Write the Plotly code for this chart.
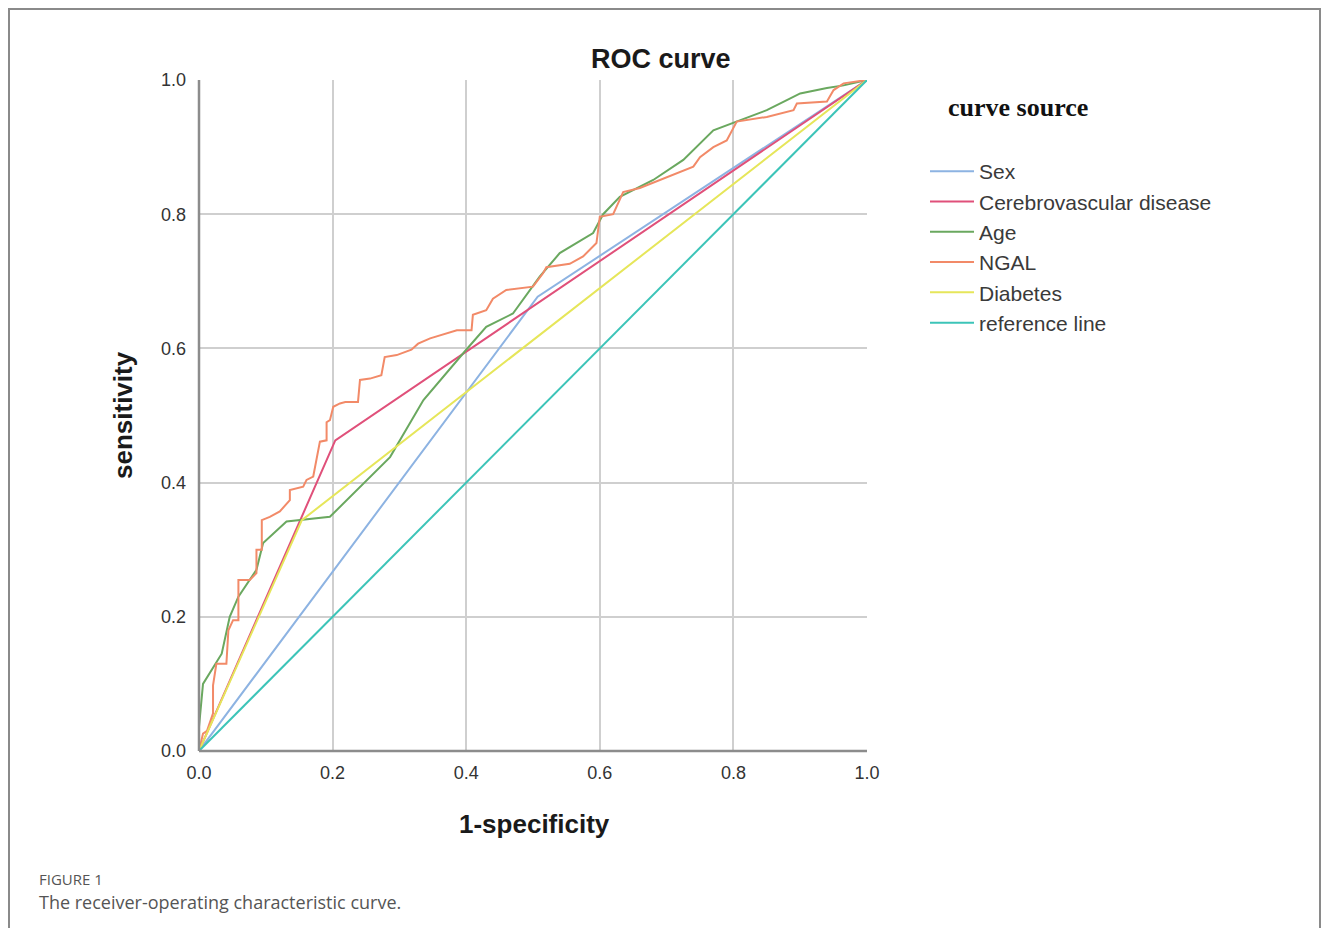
import plotly.graph_objects as go

# ---------------- data ----------------
sex_fpr = [0.0, 0.507, 1.0]
sex_tpr = [0.0, 0.677, 1.0]

cvd_fpr = [0.0, 0.204, 1.0]
cvd_tpr = [0.0, 0.463, 1.0]

diab_fpr = [0.0, 0.154, 1.0]
diab_tpr = [0.0, 0.344, 1.0]

ref_fpr = [0.0, 1.0]
ref_tpr = [0.0, 1.0]

age_fpr = [0.0, 0.0, 0.006, 0.034, 0.046, 0.059, 0.086, 0.096, 0.131, 0.196,
           0.286, 0.336, 0.40, 0.43, 0.47, 0.51, 0.54, 0.59, 0.605, 0.63,
           0.68, 0.725, 0.77, 0.80, 0.85, 0.88, 0.90, 0.94, 0.965, 1.0]
age_tpr = [0.0, 0.036, 0.10, 0.145, 0.20, 0.23, 0.27, 0.31, 0.342, 0.349,
           0.438, 0.523, 0.598, 0.632, 0.652, 0.707, 0.742, 0.772, 0.80, 0.826,
           0.851, 0.881, 0.925, 0.936, 0.955, 0.97, 0.98, 0.988, 0.992, 1.0]

ngal_fpr = [0.0, 0.006, 0.012, 0.021, 0.021, 0.026, 0.041, 0.044, 0.051, 0.059,
            0.059, 0.076, 0.086, 0.086, 0.094, 0.094, 0.106, 0.121, 0.136, 0.136,
            0.156, 0.161, 0.171, 0.176, 0.181, 0.191, 0.191, 0.196, 0.201, 0.211,
            0.219, 0.238, 0.241, 0.256, 0.273, 0.278, 0.296, 0.318, 0.328, 0.346,
            0.371, 0.386, 0.408, 0.41, 0.43, 0.44, 0.46, 0.475, 0.50, 0.515,
            0.52, 0.555, 0.575, 0.595, 0.60, 0.62, 0.63, 0.635, 0.66, 0.69,
            0.715, 0.74, 0.75, 0.77, 0.79, 0.80, 0.805, 0.85, 0.89, 0.895,
            0.94, 0.95, 0.965, 1.0]
ngal_tpr = [0.0, 0.026, 0.03, 0.056, 0.098, 0.13, 0.13, 0.18, 0.195, 0.195,
            0.255, 0.255, 0.265, 0.30, 0.30, 0.344, 0.349, 0.357, 0.374, 0.389,
            0.394, 0.404, 0.409, 0.438, 0.461, 0.463, 0.49, 0.493, 0.513, 0.518,
            0.52, 0.52, 0.553, 0.555, 0.56, 0.587, 0.59, 0.598, 0.607, 0.615,
            0.622, 0.627, 0.627, 0.65, 0.657, 0.674, 0.687, 0.689, 0.692, 0.712,
            0.721, 0.726, 0.737, 0.757, 0.796, 0.80, 0.821, 0.833, 0.839, 0.851,
            0.861, 0.871, 0.885, 0.90, 0.91, 0.93, 0.938, 0.945, 0.955, 0.965,
            0.968, 0.985, 0.995, 1.0]

tick_vals = [0.0, 0.2, 0.4, 0.6, 0.8, 1.0]
tick_text = ["0.0", "0.2", "0.4", "0.6", "0.8", "1.0"]

# ---------------- figure ----------------
OFF = 8  # page body margin of the browser
W, H = 1330 - 2 * OFF, 936 - 2 * OFF
L, R, T, B = 199 - OFF, 867 - OFF, 80 - OFF, 751 - OFF  # plot area in pixels


def px(xp):
    return (xp - OFF - L) / (R - L)


def py(yp):
    return (B - (yp - OFF)) / (B - T)


fig = go.Figure()
series = [
    ("Sex", sex_fpr, sex_tpr, "#8db3e2"),
    ("Cerebrovascular disease", cvd_fpr, cvd_tpr, "#e0507a"),
    ("Age", age_fpr, age_tpr, "#6aa85f"),
    ("NGAL", ngal_fpr, ngal_tpr, "#f28a68"),
    ("Diabetes", diab_fpr, diab_tpr, "#e6e65a"),
    ("reference line", ref_fpr, ref_tpr, "#3cc4b8"),
]
for i, (name, xs, ys, col) in enumerate(series):
    fig.add_trace(go.Scatter(x=xs, y=ys, mode="lines", name=name,
                             line=dict(color=col, width=2),
                             legendrank=i + 1, hoverinfo="skip"))

axis_common = dict(
    range=[0, 1], tickvals=tick_vals, ticktext=tick_text,
    showgrid=True, gridcolor="#cfcfcf", gridwidth=2,
    zeroline=False, showline=False, ticks="",
    tickfont=dict(family="Liberation Sans, Arial", size=18, color="#333333"),
    fixedrange=True,
)

fig.update_layout(
    width=W, height=H,
    paper_bgcolor="white", plot_bgcolor="white",
    margin=dict(l=L, r=W - R, t=T, b=H - B, autoexpand=False),
    xaxis=dict(**axis_common, ticklabelstandoff=9),
    yaxis=dict(**axis_common, ticklabelstandoff=12),
    showlegend=True,
    legend=dict(x=px(925), y=py(151), xanchor="left", yanchor="top",
                font=dict(family="Liberation Sans, Arial", size=21, color="#3a3a3a"),
                itemwidth=44, tracegroupgap=0, bgcolor="rgba(0,0,0,0)",
                traceorder="normal"),
    shapes=[
        # outer frame (no bottom edge)
        dict(type="path", xref="paper", yref="paper",
             path=f"M {px(9)},{py(960)} L {px(9)},{py(9)} L {px(1320)},{py(9)} L {px(1320)},{py(960)}",
             line=dict(color="#8a8a8a", width=2)),
        # axis lines
        dict(type="line", xref="paper", yref="paper", x0=0, x1=0, y0=0, y1=1,
             line=dict(color="#8c8c8c", width=2.5)),
        dict(type="line", xref="paper", yref="paper", x0=0, x1=1, y0=0, y1=0,
             line=dict(color="#8c8c8c", width=2.5)),
    ],
    annotations=[
        dict(text="<b>ROC curve</b>", xref="paper", yref="paper", x=px(661), y=py(59),
             xanchor="center", yanchor="middle", showarrow=False,
             font=dict(family="Liberation Sans, Arial", size=27, color="#1a1a1a")),
        dict(text="<b>sensitivity</b>", xref="paper", yref="paper", x=px(123), y=py(415),
             xanchor="center", yanchor="middle", showarrow=False, textangle=-90,
             font=dict(family="Liberation Sans, Arial", size=26, color="#1a1a1a")),
        dict(text="<b>1-specificity</b>", xref="paper", yref="paper", x=px(534), y=py(824),
             xanchor="center", yanchor="middle", showarrow=False,
             font=dict(family="Liberation Sans, Arial", size=26, color="#1a1a1a")),
        dict(text="<b>curve source</b>", xref="paper", yref="paper", x=px(946), y=py(108),
             xanchor="left", yanchor="middle", showarrow=False,
             font=dict(family="Liberation Serif, Times New Roman", size=26, color="#111111")),
        dict(text="FIGURE 1", xref="paper", yref="paper", x=px(37), y=py(879),
             xanchor="left", yanchor="middle", showarrow=False,
             font=dict(family="Open Sans", size=15, color="#555555")),
        dict(text="The receiver-operating characteristic curve.", xref="paper", yref="paper",
             x=px(37), y=py(902), xanchor="left", yanchor="middle", showarrow=False,
             font=dict(family="Open Sans", size=18, color="#555555")),
    ],
)

fig.write_html("out.html")
